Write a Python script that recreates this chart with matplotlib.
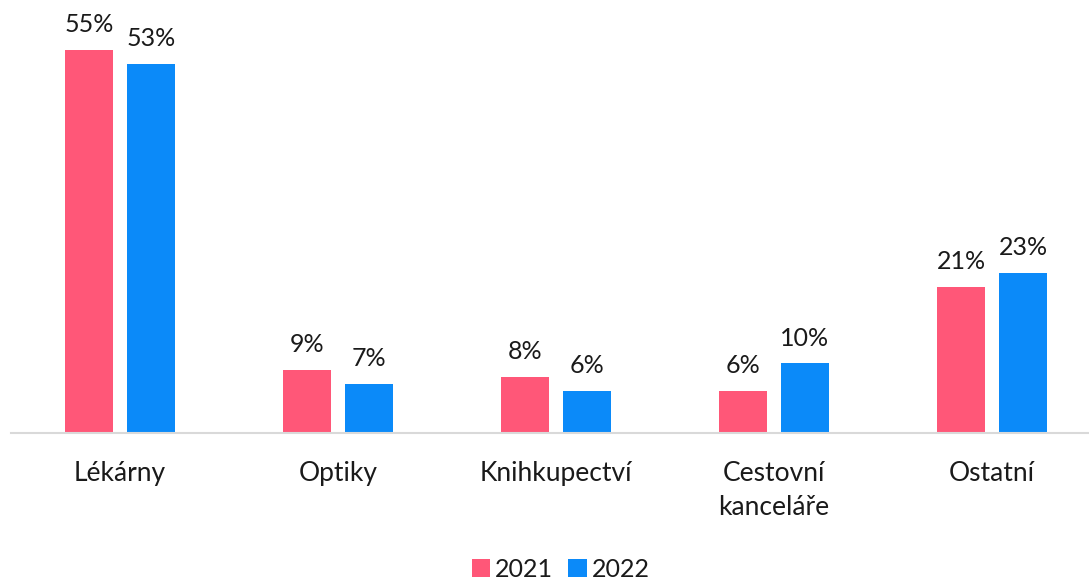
import matplotlib.pyplot as plt
import numpy as np

categories = ["Lékárny", "Optiky", "Knihkupectví", "Cestovní\nkanceláře", "Ostatní"]
years = ["2021", "2022"]
values_2021 = [55, 9, 8, 6, 21]
values_2022 = [53, 7, 6, 10, 23]
colors = ["#FF5778", "#0B8AF9"]

plt.rcParams['font.family'] = ['Lato', 'DejaVu Sans']

fig = plt.figure(figsize=(10.89, 5.8), dpi=100)
ax = fig.add_axes([11 / 1089, 1 - 433 / 580, 1 - 11 / 1089, 60 * 6.96 / 580])

x = np.arange(len(categories))
w = 0.22
off = 0.142
for vals, dx, c, lab in [(values_2021, -off, colors[0], years[0]),
                         (values_2022, off, colors[1], years[1])]:
    bars = ax.bar(x + dx, vals, width=w, color=c, label=lab)
    for b, v in zip(bars, vals):
        ax.annotate(f"{v}%", (b.get_x() + b.get_width() / 2, v),
                    xytext=(0, 10), textcoords="offset points",
                    ha="center", va="bottom", fontsize=18, color="#1a1a1a")

ax.set_xlim(-0.5, 4.445)
ax.set_ylim(0, 60)
ax.set_xticks(x)
ax.set_xticklabels(categories, fontsize=19, color="#1a1a1a", linespacing=1.45)
ax.tick_params(axis="x", length=0, pad=20)
ax.set_yticks([])
for s in ["top", "right", "left"]:
    ax.spines[s].set_visible(False)
ax.spines["bottom"].set_color("#d9d9d9")
ax.spines["bottom"].set_linewidth(1.5)

fig.legend(loc="lower center", bbox_to_anchor=(0.515, -0.04), ncol=2, frameon=False,
           fontsize=18, handlelength=0.75, handleheight=0.75, handletextpad=0.2,
           columnspacing=0.6, labelcolor="#1a1a1a")

fig.savefig("out.png", dpi=100)
